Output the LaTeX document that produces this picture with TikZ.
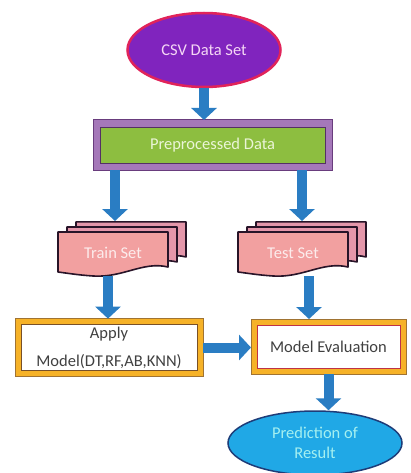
\documentclass[tikz,border=0pt]{standalone}
\usepackage{fontspec}
\setmainfont{Carlito}
\usetikzlibrary{shapes.geometric,arrows.meta}
\definecolor{csvfill}{RGB}{128,36,190}
\definecolor{csvline}{RGB}{225,35,90}
\definecolor{csvtext}{RGB}{245,215,245}
\definecolor{pregreen}{RGB}{141,190,64}
\definecolor{predark}{RGB}{105,60,125}
\definecolor{prelav}{RGB}{165,120,185}
\definecolor{pretext}{RGB}{235,245,215}
\definecolor{pagefill}{RGB}{242,160,160}
\definecolor{pageback}{RGB}{228,150,170}
\definecolor{pageline}{RGB}{40,20,40}
\definecolor{pagetext}{RGB}{252,236,236}
\definecolor{orfill}{RGB}{246,178,40}
\definecolor{oredge}{RGB}{160,115,50}
\definecolor{brownline}{RGB}{120,80,40}
\definecolor{redline}{RGB}{190,50,70}
\definecolor{predfill}{RGB}{32,168,230}
\definecolor{predline}{RGB}{30,60,120}
\definecolor{predtext}{RGB}{165,240,240}
\definecolor{arrowblue}{RGB}{42,125,195}
\tikzset{
  txt/.style={font=\fontsize{16.5}{20}\selectfont, align=center},
  bigarrow/.style={draw=arrowblue, line width=10pt,
    -{Triangle[width=25pt,length=12pt,fill=arrowblue]}},
  pageshape/.style={draw=pageline, line width=1.6pt, line join=round},
  orbox/.style={txt, rectangle, fill=white, line width=0.8pt, outer sep=6pt,
    text=black!75, inner sep=2pt,
    preaction={draw=oredge, line width=13pt},
    preaction={draw=orfill, line width=11pt}},
}
\newcommand{\pagestackat}[2]{%
  \foreach \d/\c in {18/pageback,9/pageback,0/pagefill}{%
    \begin{scope}[shift={({#1+\d},{#2-\d*0.56})}]
      \draw[pageshape, fill=\c] (0,0) -- (110,0) -- (110,35)
        .. controls (85,29) and (65,46) .. (35,44)
        .. controls (20,43) and (8,41) .. (0,40) -- cycle;
    \end{scope}}}
\begin{document}
\begin{tikzpicture}[x=1pt,y=-1pt]
\useasboundingbox[fill=white] (0,0) rectangle (411,473);

\node[txt, ellipse, fill=csvfill, draw=csvline, line width=2.5pt,
  text=csvtext, minimum width=153pt, minimum height=74pt, inner sep=0pt]
  (csv) at (204,50) {CSV Data Set};

\node[txt, rectangle, fill=pregreen, draw=predark!80!black, line width=0.8pt,
  text=pretext, minimum width=225pt, minimum height=36pt, inner sep=0pt,
  outer sep=7pt,
  preaction={draw=predark, line width=15pt},
  preaction={draw=prelav, line width=13pt}]
  (pre) at (212.5,145) {Preprocessed Data};

\pagestackat{58}{232}
\pagestackat{238}{232}
\node[txt, text=pagetext] (train) at (113,253) {Train Set};
\node[txt, text=pagetext] (test) at (293,253) {Test Set};
\coordinate (trainTop) at (115,221);
\coordinate (testTop) at (302,221);
\coordinate (trainBot) at (108,276);
\coordinate (testBot) at (309,276);

\node[orbox, draw=brownline, minimum width=176pt, minimum height=41pt]
  (apply) at (109,347.5) {Apply\\[8pt]Model(DT,RF,AB,KNN)};
\node[orbox, draw=redline, minimum width=143pt, minimum height=43pt]
  (eval) at (328.5,346.5) {Model Evaluation};

\node[txt, ellipse, fill=predfill, draw=predline, line width=1.5pt,
  text=predtext, minimum width=174pt, minimum height=64pt, inner sep=0pt]
  (pred) at (315,443) {Prediction of\\Result};

\draw[bigarrow] (csv.south) -- (csv.south |- pre.north);
\draw[bigarrow] (pre.south -| trainTop) -- (trainTop);
\draw[bigarrow] (pre.south -| testTop) -- (testTop);
\draw[bigarrow] (trainBot) -- (trainBot |- apply.north);
\draw[bigarrow] (testBot) -- (testBot |- eval.north);
\draw[bigarrow] (apply.east) -- (apply.east -| eval.west);
\draw[bigarrow] (eval.south) -- (eval.south |- pred.north);
\end{tikzpicture}
\end{document}
